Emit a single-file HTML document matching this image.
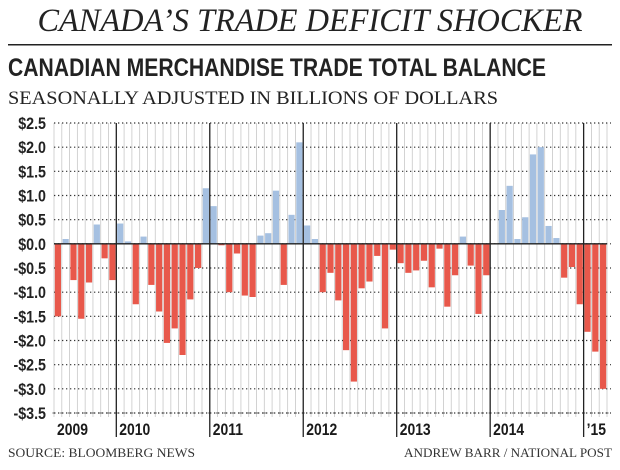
<!DOCTYPE html>
<html><head><meta charset="utf-8"><style>
html,body{margin:0;padding:0;background:#fff;width:620px;height:470px;overflow:hidden}
svg{display:block}
</style></head><body>
<svg id="chart" width="620" height="470" xmlns="http://www.w3.org/2000/svg">
<text x="310" y="31" text-anchor="middle" font-family="Liberation Serif, serif" font-style="italic" font-size="33" textLength="545" lengthAdjust="spacingAndGlyphs" fill="#222">CANADA’S TRADE DEFICIT SHOCKER</text>
<rect x="8" y="44" width="604" height="1.5" fill="#222"/>
<text x="8" y="76" font-family="Liberation Sans, sans-serif" font-weight="bold" font-size="25" textLength="538" lengthAdjust="spacingAndGlyphs" fill="#222">CANADIAN MERCHANDISE TRADE TOTAL BALANCE</text>
<text x="8" y="104" font-family="Liberation Serif, serif" font-size="19" textLength="490" lengthAdjust="spacingAndGlyphs" fill="#222">SEASONALLY ADJUSTED IN BILLIONS OF DOLLARS</text>
<g id="plot"></g>
<text x="8" y="457" font-family="Liberation Serif, serif" font-size="13" textLength="187" lengthAdjust="spacingAndGlyphs" fill="#333">SOURCE: BLOOMBERG NEWS</text>
<text x="612" y="457" text-anchor="end" font-family="Liberation Serif, serif" font-size="13" textLength="208" lengthAdjust="spacingAndGlyphs" fill="#333">ANDREW BARR / NATIONAL POST</text>
</svg>
<script>
const values = [
 -1.5,0.1,-0.75,-1.55,-0.8,0.4,-0.3,-0.75,
 0.42,0.05,-1.25,0.15,-0.85,-1.4,-2.05,-1.75,-2.3,-1.15,-0.5,1.15,
 0.78,-0.03,-1.0,-0.2,-1.07,-1.1,0.17,0.22,1.1,-0.85,0.6,2.1,
 0.38,0.1,-1.0,-0.6,-1.17,-2.2,-2.85,-0.92,-0.78,-0.25,-1.75,-0.12,
 -0.4,-0.6,-0.55,-0.35,-0.9,-0.1,-1.3,-0.65,0.15,-0.45,-1.45,-0.65,
 0.0,0.7,1.2,0.1,0.55,1.85,2.0,0.37,0.12,-0.7,-0.48,-1.25,
 -1.82,-2.23,-3.0
];
const startMonth = 4; // May 2009 (0-based)
const startYear = 2009;
const yearLabels = ["2009","2010","2011","2012","2013","2014","’15"];
const yTicks = [2.5,2.0,1.5,1.0,0.5,0.0,-0.5,-1.0,-1.5,-2.0,-2.5,-3.0,-3.5];
const yTickLabels = ["$2.5","$2.0","$1.5","$1.0","$0.5","$0.0","-$0.5","-$1.0","-$1.5","-$2.0","-$2.5","-$3.0","-$3.5"];

const NS="http://www.w3.org/2000/svg";
const g=document.getElementById('plot');
const X0=54, X1=607, slot=(X1-X0)/values.length;
const yMin=-3.5,yMax=2.5,Y0=413,Y1=123;
const y=v=>Y0-(v-yMin)/(yMax-yMin)*(Y0-Y1);
const x=i=>X0+i*slot;
function mk(t,a){const e=document.createElementNS(NS,t);for(const k in a)e.setAttribute(k,a[k]);g.appendChild(e);return e;}

for(let i=0;i<=values.length;i++){
 const l=mk('line',{x1:x(i),x2:x(i),y1:y(2.5),y2:Y0+4,stroke:'#c8c8c8','stroke-width':0.8});
 
 
 const t=mk('line',{x1:x(i)-1.5,x2:x(i)+1.5,y1:Y0,y2:Y0,stroke:'#555','stroke-width':1});
 
 
}
yTicks.forEach((v,k)=>{
 const l=mk('line',{x1:X0,x2:X1+4,y1:y(v),y2:y(v),stroke:'#333','stroke-width':1.2,'stroke-dasharray':'1.3,2.7'});
 
 
 const t=mk('text',{x:46,y:y(v)+6,'text-anchor':'end','font-family':'Liberation Sans, sans-serif','font-weight':'bold','font-size':17,fill:'#222',transform:`translate(46,0) scale(0.84,1) translate(-46,0)`});
 t.textContent=yTickLabels[k];
 
 
});
values.forEach((v,i)=>{
 const top=y(Math.max(v,0)),bot=y(Math.min(v,0));
 const r=mk('rect',{x:x(i)+0.8,y:top,width:slot-1.6,height:Math.max(bot-top,0),fill:v>=0?'#a5c0e1':'#e8584b'});
 
 
});
const z=mk('line',{x1:X0,x2:X1,y1:y(0),y2:y(0),stroke:'#222','stroke-width':1.3});


yearLabels.forEach((lab,k)=>{
 const idx=k===0?0:(12*k-startMonth);
 const xx=x(idx);
 if(k>0){
  const l=mk('line',{x1:xx,x2:xx,y1:y(2.5),y2:437,stroke:'#222','stroke-width':1.3});
  
  
 }
 const tx=xx+3;
 const t=mk('text',{x:tx,y:435,'font-family':'Liberation Sans, sans-serif','font-weight':'bold','font-size':17,fill:'#1a1a1a',transform:`translate(${tx},0) scale(0.82,1) translate(${-tx},0)`});
 t.textContent=lab;
 
 
});
</script>
</body></html>
